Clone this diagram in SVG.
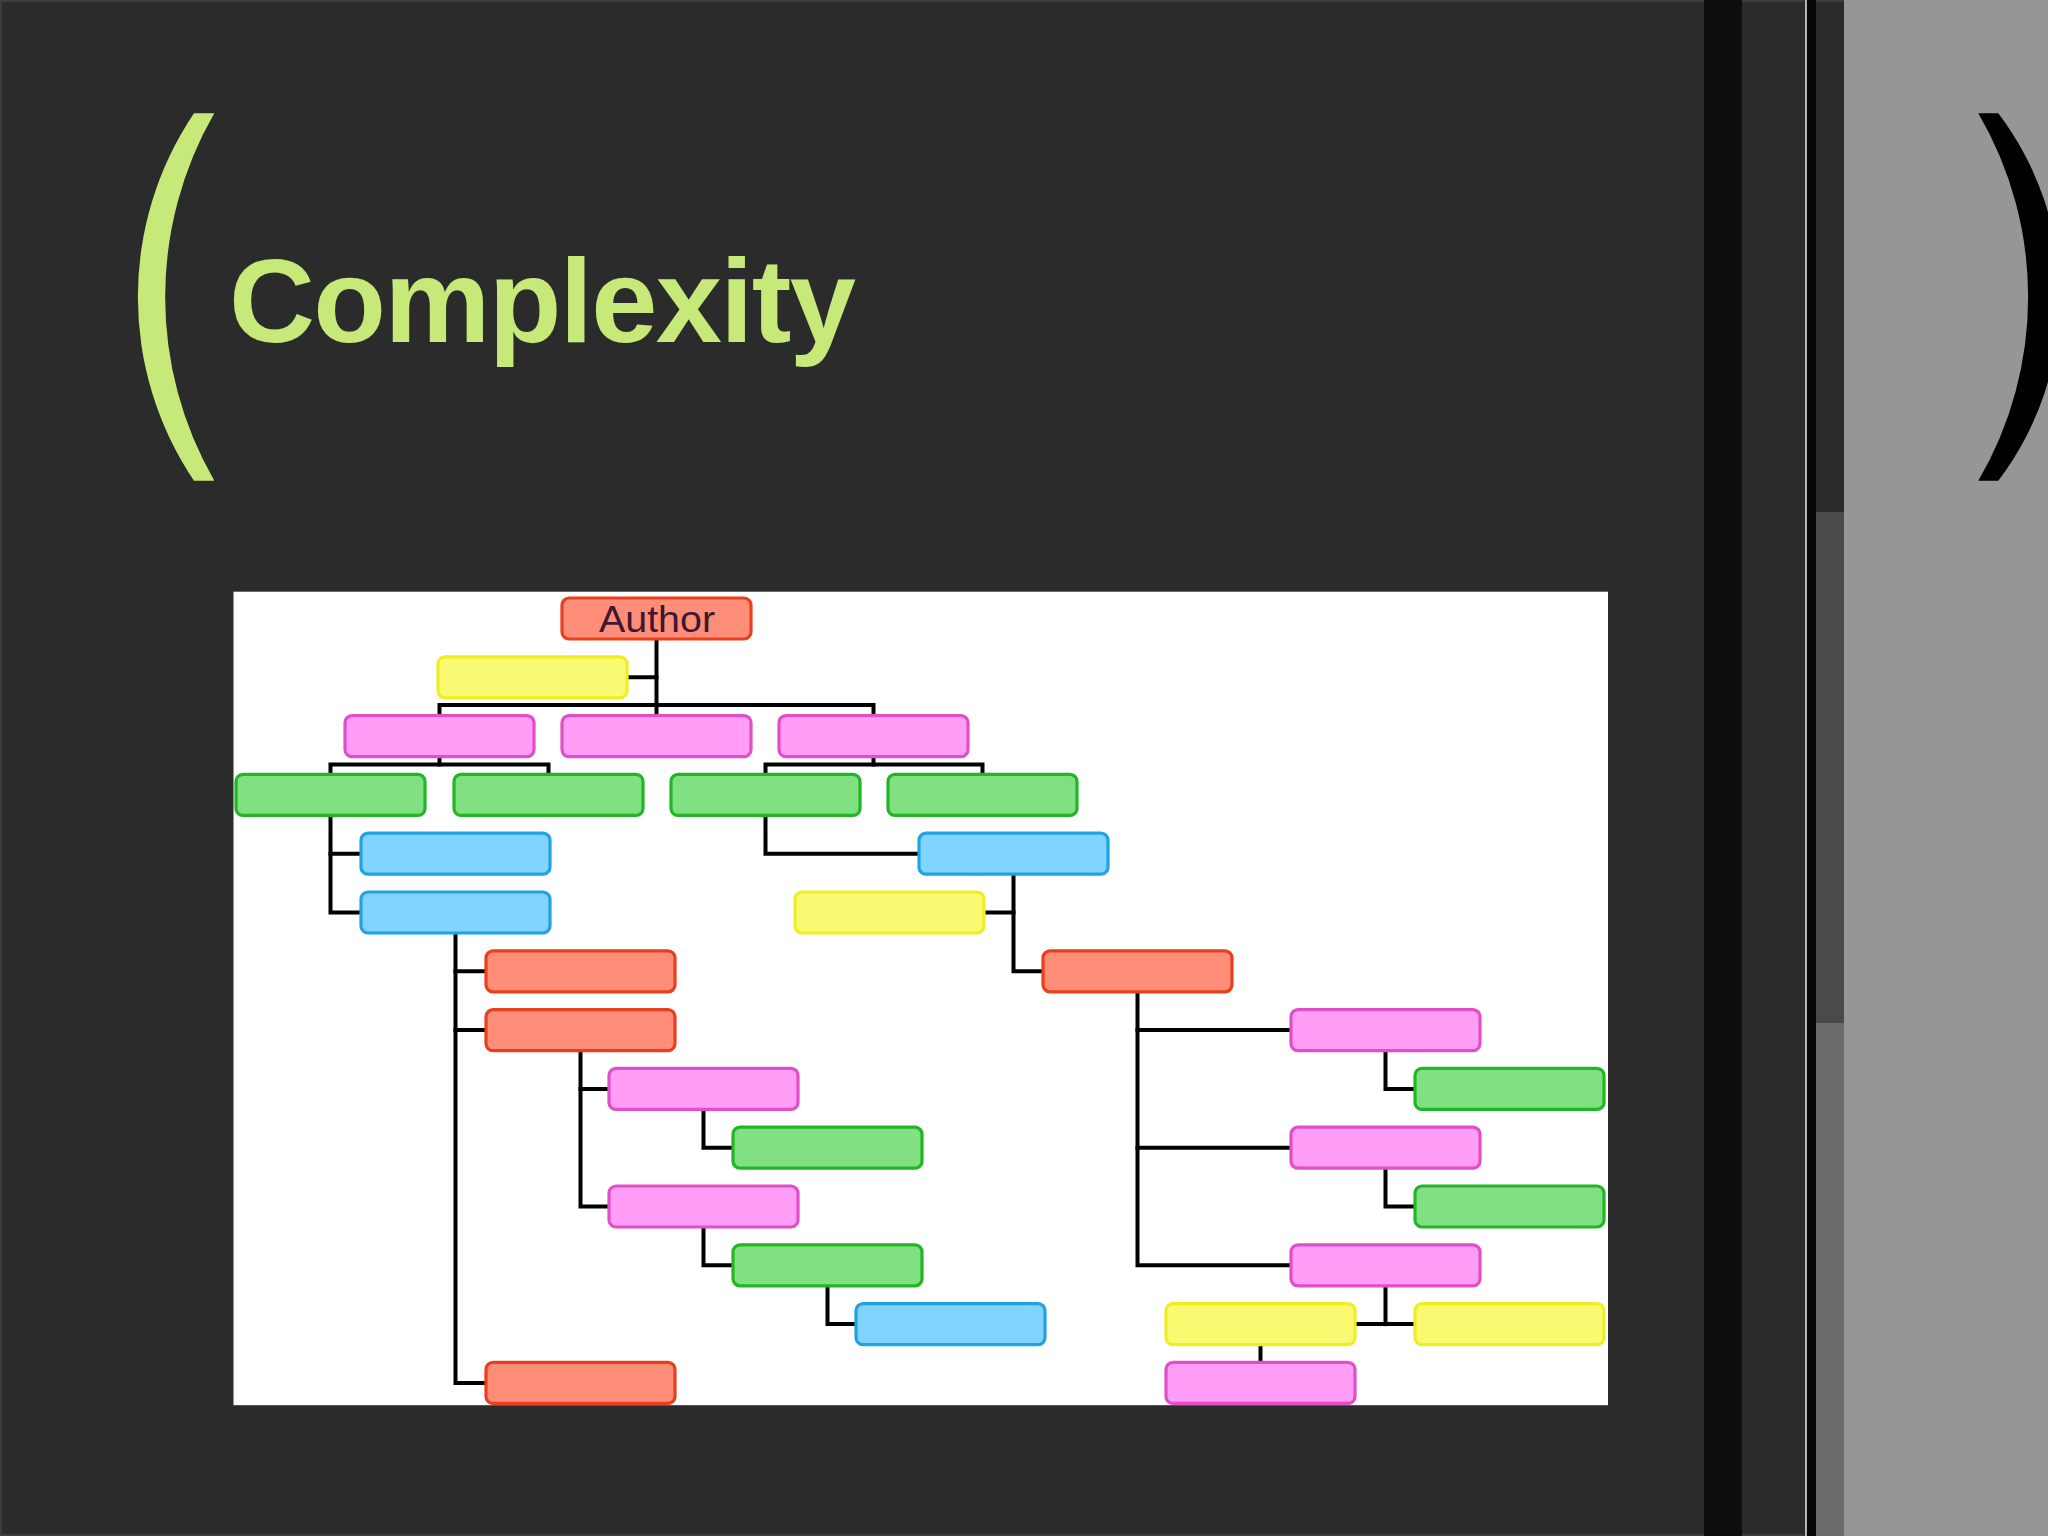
<svg xmlns="http://www.w3.org/2000/svg" width="2048" height="1536" viewBox="0 0 2048 1536">
<defs>
<style>
.n use{stroke-width:3.2}
.red use{fill:#FF8D78;stroke:#E8401F}
.yel use{fill:#FAFA72;stroke:#EEEE22}
.pnk use{fill:#FF9DF7;stroke:#E04FC6}
.grn use{fill:#80E082;stroke:#22B626}
.blu use{fill:#80D4FF;stroke:#22A2E2}
#connectors path{fill:none;stroke:#000;stroke-width:4;stroke-linecap:square;stroke-linejoin:miter}
</style>
<rect id="box" width="189" height="41" rx="7" ry="7"/>
</defs>
<rect x="0" y="0" width="2048" height="1536" fill="#2B2B2B"/>
<rect x="1" y="1" width="2046" height="1534" fill="none" stroke="#3C3C3C" stroke-width="2"/>
<g id="side-panels">
<rect x="1704" y="0" width="38" height="1536" fill="#0E0E0E"/>
<rect x="1805" y="0" width="2" height="1536" fill="#B4B4B4"/>
<rect x="1807" y="0" width="9" height="1536" fill="#060606"/>
<rect x="1816" y="512" width="28" height="511" fill="#4A4A4A"/>
<rect x="1816" y="1023" width="28" height="513" fill="#6B6B6B"/>
<rect x="1844" y="0" width="204" height="1536" fill="#959795"/>
</g>
<path id="bracket-left" d="M194 113.3 A328.6 328.6 0 0 0 194 480.7 L214.3 480.7 A368 368 0 0 1 214.3 113.3 Z" fill="#C6E97A"/>
<path id="bracket-right" d="M1978.3 113.3 A363.6 363.6 0 0 1 1978.3 480.7 L1998.3 480.7 A304 304 0 0 0 1998.3 113.3 Z" fill="#000"/>
<text id="title" x="229" y="342" font-family="Liberation Sans, Arial, Helvetica, sans-serif" font-weight="bold" font-size="119" fill="#C6E97A" textLength="627" lengthAdjust="spacing">Complexity</text>
<rect id="panel" x="233.5" y="591.7" width="1374.5" height="813.5" fill="#FFFFFF"/>
<g id="connectors">
<path d="M656.5 639 V715.6"/>
<path d="M627 677.3 H656.5"/>
<path d="M439.5 715.6 V705 H873.5 V715.6"/>
<path d="M439.5 756.6 V764.5"/>
<path d="M330.5 774.4 V764.5 H548.5 V774.4"/>
<path d="M873.5 756.6 V764.5"/>
<path d="M765.5 774.4 V764.5 H982.5 V774.4"/>
<path d="M330.5 815.4 V912.5 H361"/>
<path d="M330.5 853.7 H361"/>
<path d="M765.5 815.4 V853.7 H919"/>
<path d="M1013.5 874.2 V971.3 H1043"/>
<path d="M984 912.5 H1013.5"/>
<path d="M455.5 933 V1382.9 H486"/>
<path d="M455.5 971.3 H486"/>
<path d="M455.5 1030.1 H486"/>
<path d="M580.5 1050.6 V1206.5 H609"/>
<path d="M580.5 1088.9 H609"/>
<path d="M703.5 1109.4 V1147.7 H733"/>
<path d="M703.5 1227 V1265.3 H733"/>
<path d="M827.5 1285.8 V1324.1 H856"/>
<path d="M1137.5 991.8 V1265.3 H1291"/>
<path d="M1137.5 1030.1 H1291"/>
<path d="M1137.5 1147.7 H1291"/>
<path d="M1385.5 1050.6 V1088.9 H1415"/>
<path d="M1385.5 1168.2 V1206.5 H1415"/>
<path d="M1385.5 1285.8 V1324.1"/>
<path d="M1355 1324.1 H1415"/>
<path d="M1260.5 1344.6 V1362.4"/>
</g>
<g id="n-author" class="n red"><use href="#box" x="562" y="598"/><text x="657" y="632" font-family="Liberation Sans, Arial, Helvetica, sans-serif" font-size="36" fill="#3E1830" text-anchor="middle" textLength="116" lengthAdjust="spacingAndGlyphs">Author</text></g>
<g id="n-y1" class="n yel"><use href="#box" x="438" y="656.8"/></g>
<g id="n-p1" class="n pnk"><use href="#box" x="345" y="715.6"/></g>
<g id="n-p2" class="n pnk"><use href="#box" x="562" y="715.6"/></g>
<g id="n-p3" class="n pnk"><use href="#box" x="779" y="715.6"/></g>
<g id="n-g1" class="n grn"><use href="#box" x="236" y="774.4"/></g>
<g id="n-g2" class="n grn"><use href="#box" x="454" y="774.4"/></g>
<g id="n-g3" class="n grn"><use href="#box" x="671" y="774.4"/></g>
<g id="n-g4" class="n grn"><use href="#box" x="888" y="774.4"/></g>
<g id="n-b1" class="n blu"><use href="#box" x="361" y="833.2"/></g>
<g id="n-b2" class="n blu"><use href="#box" x="361" y="892"/></g>
<g id="n-bR" class="n blu"><use href="#box" x="919" y="833.2"/></g>
<g id="n-yR" class="n yel"><use href="#box" x="795" y="892"/></g>
<g id="n-r1" class="n red"><use href="#box" x="486" y="950.8"/></g>
<g id="n-r2" class="n red"><use href="#box" x="486" y="1009.6"/></g>
<g id="n-r3" class="n red"><use href="#box" x="486" y="1362.4"/></g>
<g id="n-pL1" class="n pnk"><use href="#box" x="609" y="1068.4"/></g>
<g id="n-gL1" class="n grn"><use href="#box" x="733" y="1127.2"/></g>
<g id="n-pL2" class="n pnk"><use href="#box" x="609" y="1186"/></g>
<g id="n-gL2" class="n grn"><use href="#box" x="733" y="1244.8"/></g>
<g id="n-bL" class="n blu"><use href="#box" x="856" y="1303.6"/></g>
<g id="n-rR" class="n red"><use href="#box" x="1043" y="950.8"/></g>
<g id="n-pR1" class="n pnk"><use href="#box" x="1291" y="1009.6"/></g>
<g id="n-gR1" class="n grn"><use href="#box" x="1415" y="1068.4"/></g>
<g id="n-pR2" class="n pnk"><use href="#box" x="1291" y="1127.2"/></g>
<g id="n-gR2" class="n grn"><use href="#box" x="1415" y="1186"/></g>
<g id="n-pR3" class="n pnk"><use href="#box" x="1291" y="1244.8"/></g>
<g id="n-yR1" class="n yel"><use href="#box" x="1166" y="1303.6"/></g>
<g id="n-yR2" class="n yel"><use href="#box" x="1415" y="1303.6"/></g>
<g id="n-pR4" class="n pnk"><use href="#box" x="1166" y="1362.4"/></g>
</svg>
